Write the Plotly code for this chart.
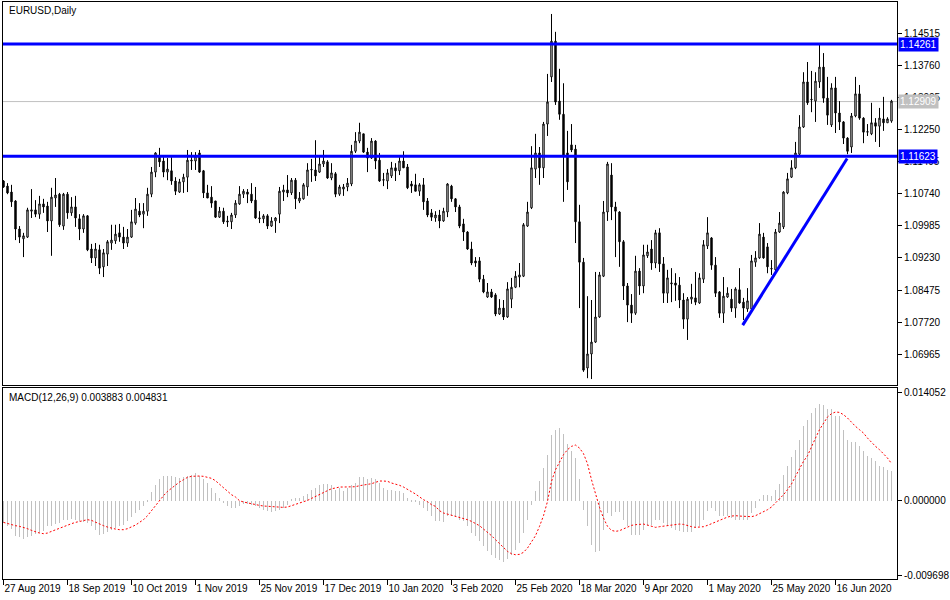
import plotly.graph_objects as go

TITLE = "EURUSD,Daily"
MACD_TEXT = "MACD(12,26,9) 0.003883 0.004831"

OPEN = [1.1104, 1.1092, 1.1078, 1.1057, 1.0991, 1.0968, 1.0972, 1.1033, 1.1036, 1.1026,
        1.1050, 1.1045, 1.1010, 1.1064, 1.1073, 1.0998, 1.1073, 1.1029, 1.1043, 1.1015,
        1.0991, 1.1022, 1.0944, 1.0923, 1.0942, 1.0902, 1.0932, 1.0958, 1.0963, 1.0982,
        1.0972, 1.0958, 1.0972, 1.1005, 1.1033, 1.1026, 1.1033, 1.1073, 1.1125, 1.1160,
        1.1151, 1.1125, 1.1128, 1.1104, 1.1078, 1.1102, 1.1113, 1.1151, 1.1151, 1.1170,
        1.1128, 1.1076, 1.1066, 1.1057, 1.1019, 1.1033, 1.1010, 1.1008, 1.1024, 1.1050,
        1.1073, 1.1078, 1.1073, 1.1059, 1.1015, 1.1015, 1.1022, 1.0998, 1.1010, 1.1026,
        1.1078, 1.1083, 1.1076, 1.1106, 1.1057, 1.1062, 1.1090, 1.1130, 1.1130, 1.1125,
        1.1144, 1.1149, 1.1111, 1.1121, 1.1073, 1.1085, 1.1090, 1.1097, 1.1174, 1.1198,
        1.1215, 1.1172, 1.1158, 1.1198, 1.1153, 1.1106, 1.1104, 1.1116, 1.1135, 1.1128,
        1.1151, 1.1137, 1.1097, 1.1095, 1.1080, 1.1095, 1.1057, 1.1029, 1.1017, 1.1024,
        1.1010, 1.1031, 1.1092, 1.1062, 1.1043, 1.1003, 1.0984, 1.0944, 1.0916, 1.0916,
        1.0873, 1.0831, 1.0843, 1.0836, 1.0791, 1.0805, 1.0784, 1.0826, 1.0854, 1.0878,
        1.0880, 1.0998, 1.1041, 1.1132, 1.1170, 1.1135, 1.1238, 1.1349, 1.1433, 1.1292,
        1.1261, 1.1170, 1.1189, 1.1179, 1.1008, 1.0913, 1.0664, 1.0697, 1.0725, 1.0784,
        1.0880, 1.1031, 1.1118, 1.1043, 1.1031, 1.0961, 1.0857, 1.0812, 1.0793, 1.0892,
        1.0857, 1.0928, 1.0944, 1.0911, 1.0982, 1.0909, 1.0840, 1.0862, 1.0864, 1.0859,
        1.0824, 1.0779, 1.0826, 1.0829, 1.0817, 1.0873, 1.0951, 1.0970, 1.0906, 1.0843,
        1.0793, 1.0831, 1.0826, 1.0805, 1.0848, 1.0819, 1.0803, 1.0803, 1.0913, 1.0923,
        1.0972, 1.0949, 1.0897, 1.0895, 1.0984, 1.0996, 1.1076, 1.1113, 1.1135, 1.1167,
        1.1231, 1.1337, 1.1295, 1.1292, 1.1337, 1.1372, 1.1299, 1.1236, 1.1323, 1.1264,
        1.1243, 1.1205, 1.1184, 1.1257, 1.1309, 1.1252, 1.1219, 1.1215, 1.1241, 1.1233,
        1.1250, 1.1241, 1.1245]

HIGH = [1.1106, 1.1099, 1.1095, 1.1059, 1.0998, 1.0982, 1.1041, 1.1085, 1.1059, 1.1069,
        1.1062, 1.1055, 1.1088, 1.1111, 1.1076, 1.1076, 1.1078, 1.1066, 1.1069, 1.1026,
        1.1026, 1.1024, 1.0956, 1.0958, 1.0954, 1.0944, 1.0965, 1.1001, 1.1001, 1.1003,
        1.0996, 1.0991, 1.1036, 1.1064, 1.1052, 1.1052, 1.1088, 1.1137, 1.1172, 1.1182,
        1.1160, 1.1158, 1.1160, 1.1113, 1.1109, 1.1121, 1.1177, 1.1172, 1.1172, 1.1177,
        1.1130, 1.1095, 1.1092, 1.1057, 1.1043, 1.1041, 1.1022, 1.1029, 1.1059, 1.1092,
        1.1085, 1.1085, 1.1099, 1.1090, 1.1033, 1.1026, 1.1026, 1.1019, 1.1019, 1.1090,
        1.1095, 1.1118, 1.1111, 1.1111, 1.1078, 1.1099, 1.1146, 1.1156, 1.1200, 1.1160,
        1.1177, 1.1153, 1.1146, 1.1125, 1.1095, 1.1097, 1.1111, 1.1189, 1.1219, 1.1241,
        1.1215, 1.1182, 1.1205, 1.1200, 1.1170, 1.1123, 1.1132, 1.1149, 1.1146, 1.1160,
        1.1174, 1.1144, 1.1104, 1.1121, 1.1099, 1.1111, 1.1064, 1.1038, 1.1033, 1.1036,
        1.1041, 1.1099, 1.1095, 1.1064, 1.1048, 1.1015, 1.0986, 1.0961, 1.0925, 1.0925,
        1.0883, 1.0864, 1.0850, 1.0840, 1.0826, 1.0824, 1.0866, 1.0876, 1.0892, 1.0911,
        1.1005, 1.1055, 1.1186, 1.1215, 1.1184, 1.1243, 1.1356, 1.1497, 1.1455, 1.1368,
        1.1334, 1.1222, 1.1238, 1.1189, 1.1048, 1.0923, 1.0833, 1.0824, 1.0890, 1.0890,
        1.1057, 1.1149, 1.1146, 1.1055, 1.1033, 1.0965, 1.0864, 1.0838, 1.0928, 1.0899,
        1.0954, 1.0954, 1.0965, 1.0989, 1.0993, 1.0925, 1.0895, 1.0899, 1.0887, 1.0878,
        1.0840, 1.0831, 1.0862, 1.0890, 1.0887, 1.0965, 1.1019, 1.0972, 1.0925, 1.0845,
        1.0878, 1.0854, 1.0850, 1.0854, 1.0899, 1.0829, 1.0852, 1.0930, 1.0939, 1.1005,
        1.0982, 1.0958, 1.0918, 1.0991, 1.1031, 1.1080, 1.1123, 1.1153, 1.1196, 1.1259,
        1.1360, 1.1384, 1.1363, 1.1360, 1.1424, 1.1405, 1.1349, 1.1334, 1.1349, 1.1292,
        1.1245, 1.1207, 1.1264, 1.1349, 1.1330, 1.1254, 1.1238, 1.1288, 1.1252, 1.1276,
        1.1302, 1.1254, 1.1295]

LOW = [1.1088, 1.1073, 1.1043, 1.0965, 1.0958, 1.0925, 1.0970, 1.1017, 1.1019, 1.1015,
       1.1029, 1.0984, 1.0928, 1.1043, 1.0996, 1.0989, 1.1015, 1.1022, 1.0996, 1.0965,
       1.0982, 1.0939, 1.0911, 1.0904, 1.0885, 1.0878, 1.0904, 1.0942, 1.0956, 1.0961,
       1.0944, 1.0949, 1.0970, 1.1001, 1.1019, 1.0993, 1.1022, 1.1066, 1.1113, 1.1137,
       1.1113, 1.1106, 1.1095, 1.1071, 1.1076, 1.1076, 1.1078, 1.1130, 1.1130, 1.1123,
       1.1064, 1.1064, 1.1041, 1.1017, 1.1017, 1.1003, 1.0996, 1.0991, 1.1017, 1.1048,
       1.1064, 1.1052, 1.1052, 1.1015, 1.1005, 1.1005, 1.0991, 1.0996, 1.0982, 1.1005,
       1.1057, 1.1066, 1.1071, 1.1038, 1.1052, 1.1060, 1.1069, 1.1102, 1.1104, 1.1123,
       1.1137, 1.1109, 1.1106, 1.1066, 1.1069, 1.1069, 1.1080, 1.1092, 1.1170, 1.1193,
       1.1170, 1.1125, 1.1156, 1.1132, 1.1102, 1.1092, 1.1085, 1.1111, 1.1104, 1.1118,
       1.1135, 1.1085, 1.1076, 1.1080, 1.1069, 1.1036, 1.1019, 1.1010, 1.1008, 1.0993,
       1.1008, 1.1019, 1.1055, 1.1031, 1.0993, 1.0963, 1.0942, 1.0906, 1.0902, 1.0866,
       1.0840, 1.0829, 1.0829, 1.0786, 1.0789, 1.0777, 1.0782, 1.0805, 1.0852, 1.0854,
       1.0878, 1.0996, 1.1038, 1.1111, 1.1095, 1.1111, 1.1210, 1.1337, 1.1283, 1.1248,
       1.1055, 1.1083, 1.1172, 1.0958, 1.0805, 1.0655, 1.0640, 1.0638, 1.0723, 1.0782,
       1.0878, 1.1010, 1.1012, 1.0925, 1.0902, 1.0824, 1.0772, 1.0770, 1.0789, 1.0836,
       1.0840, 1.0923, 1.0895, 1.0899, 1.0890, 1.0817, 1.0817, 1.0819, 1.0822, 1.0805,
       1.0756, 1.0730, 1.0815, 1.0812, 1.0815, 1.0864, 1.0944, 1.0895, 1.0831, 1.0782,
       1.0770, 1.0829, 1.0796, 1.0782, 1.0815, 1.0777, 1.0796, 1.0798, 1.0902, 1.0921,
       1.0921, 1.0887, 1.0883, 1.0892, 1.0982, 1.0991, 1.1073, 1.1111, 1.1132, 1.1165,
       1.1229, 1.1283, 1.1266, 1.1243, 1.1323, 1.1288, 1.1236, 1.1231, 1.1217, 1.1224,
       1.1191, 1.1167, 1.1170, 1.1254, 1.1248, 1.1193, 1.1210, 1.1212, 1.1196, 1.1184,
       1.1222, 1.1241, 1.1241]

CLOSE = [1.1090, 1.1076, 1.1055, 1.0991, 1.0972, 1.0975, 1.1036, 1.1036, 1.1026, 1.1050,
         1.1043, 1.1010, 1.1066, 1.1071, 1.1001, 1.1073, 1.1029, 1.1043, 1.1017, 1.0991,
         1.1022, 1.0942, 1.0923, 1.0944, 1.0899, 1.0935, 1.0961, 1.0965, 1.0979, 1.0972,
         1.0958, 1.0972, 1.1008, 1.1038, 1.1024, 1.1033, 1.1073, 1.1125, 1.1170, 1.1149,
         1.1125, 1.1132, 1.1104, 1.1080, 1.1102, 1.1113, 1.1153, 1.1153, 1.1163, 1.1125,
         1.1076, 1.1064, 1.1052, 1.1019, 1.1033, 1.1008, 1.1008, 1.1024, 1.1052, 1.1073,
         1.1080, 1.1073, 1.1057, 1.1017, 1.1017, 1.1022, 1.0998, 1.1010, 1.1017, 1.1080,
         1.1083, 1.1076, 1.1106, 1.1062, 1.1064, 1.1095, 1.1130, 1.1131, 1.1116, 1.1144,
         1.1151, 1.1111, 1.1123, 1.1073, 1.1090, 1.1090, 1.1099, 1.1174, 1.1198, 1.1219,
         1.1172, 1.1158, 1.1198, 1.1151, 1.1104, 1.1107, 1.1123, 1.1135, 1.1128, 1.1151,
         1.1135, 1.1088, 1.1092, 1.1080, 1.1095, 1.1055, 1.1024, 1.1019, 1.1024, 1.1010,
         1.1033, 1.1097, 1.1062, 1.1043, 1.0998, 1.0984, 1.0944, 1.0911, 1.0911, 1.0873,
         1.0843, 1.0843, 1.0831, 1.0791, 1.0805, 1.0784, 1.0850, 1.0854, 1.0880, 1.0883,
         1.1001, 1.1031, 1.1135, 1.1170, 1.1135, 1.1238, 1.1290, 1.1433, 1.1290, 1.1261,
         1.1163, 1.1102, 1.1177, 1.1008, 1.0913, 1.0659, 1.0697, 1.0725, 1.0784, 1.0883,
         1.1031, 1.1144, 1.1043, 1.1033, 1.0961, 1.0857, 1.0812, 1.0793, 1.0892, 1.0857,
         1.0930, 1.0937, 1.0911, 1.0982, 1.0909, 1.0840, 1.0876, 1.0864, 1.0859, 1.0824,
         1.0779, 1.0826, 1.0831, 1.0819, 1.0876, 1.0954, 1.0982, 1.0906, 1.0840, 1.0793,
         1.0833, 1.0840, 1.0805, 1.0850, 1.0817, 1.0805, 1.0822, 1.0916, 1.0923, 1.0979,
         1.0923, 1.0902, 1.0898, 1.0984, 1.1005, 1.1078, 1.1109, 1.1135, 1.1170, 1.1231,
         1.1337, 1.1288, 1.1296, 1.1339, 1.1372, 1.1299, 1.1259, 1.1323, 1.1264, 1.1243,
         1.1205, 1.1174, 1.1257, 1.1309, 1.1252, 1.1219, 1.1220, 1.1241, 1.1233, 1.1252,
         1.1241, 1.1250, 1.1292]

MACD = [-0.00291, -0.00334, -0.00369, -0.00455, -0.00473, -0.00499, -0.00473, -0.00455, -0.00429, -0.00421,
        -0.00399, -0.00334, -0.00325, -0.00299, -0.00291, -0.00247, -0.00247, -0.00239, -0.00247, -0.00269,
        -0.00282, -0.00291, -0.00334, -0.00386, -0.00442, -0.00429, -0.00412, -0.00386, -0.00356, -0.00334,
        -0.00312, -0.00269, -0.00213, -0.00160, -0.00117, -0.00074, -0.00009, 0.00108, 0.00208, 0.00282,
        0.00317, 0.00325, 0.00317, 0.00308, 0.00295, 0.00308, 0.00325, 0.00338, 0.00360, 0.00325,
        0.00286, 0.00230, 0.00165, 0.00100, 0.00035, -0.00030, -0.00065, -0.00095, -0.00095, -0.00074,
        -0.00039, -0.00039, -0.00052, -0.00074, -0.00095, -0.00117, -0.00130, -0.00147, -0.00139, -0.00117,
        -0.00095, -0.00052, 0.00022, 0.00035, 0.00035, 0.00056, 0.00091, 0.00134, 0.00165, 0.00208,
        0.00221, 0.00221, 0.00208, 0.00143, 0.00165, 0.00121, 0.00165, 0.00208, 0.00230, 0.00308,
        0.00308, 0.00282, 0.00295, 0.00282, 0.00230, 0.00165, 0.00143, 0.00143, 0.00121, 0.00121,
        0.00100, 0.00035, -0.00022, -0.00022, -0.00052, -0.00095, -0.00139, -0.00204, -0.00269, -0.00269,
        -0.00282, -0.00204, -0.00204, -0.00213, -0.00247, -0.00269, -0.00334, -0.00421, -0.00464, -0.00529,
        -0.00594, -0.00659, -0.00703, -0.00746, -0.00776, -0.00802, -0.00759, -0.00703, -0.00638, -0.00551,
        -0.00421, -0.00247, -0.00052, 0.00121, 0.00252, 0.00425, 0.00599, 0.00859, 0.00924, 0.00945,
        0.00872, 0.00742, 0.00642, 0.00555, 0.00286, -0.00117, -0.00334, -0.00572, -0.00672, -0.00659,
        -0.00377, -0.00160, -0.00204, -0.00152, -0.00152, -0.00247, -0.00334, -0.00442, -0.00442, -0.00442,
        -0.00377, -0.00334, -0.00312, -0.00247, -0.00247, -0.00291, -0.00334, -0.00356, -0.00377, -0.00399,
        -0.00412, -0.00412, -0.00412, -0.00356, -0.00325, -0.00247, -0.00139, -0.00095, -0.00139, -0.00195,
        -0.00204, -0.00204, -0.00226, -0.00247, -0.00247, -0.00247, -0.00256, -0.00160, -0.00095, 0.00013,
        0.00078, 0.00078, 0.00056, 0.00143, 0.00221, 0.00338, 0.00455, 0.00568, 0.00664, 0.00794,
        0.00976, 0.01054, 0.01141, 0.01206, 0.01262, 0.01249, 0.01193, 0.01193, 0.01097, 0.01097,
        0.00915, 0.00794, 0.00759, 0.00759, 0.00716, 0.00642, 0.00585, 0.00555, 0.00512, 0.00455,
        0.00438, 0.00403, 0.003883]

SIGNAL = [-0.00282, -0.00299, -0.00317, -0.00325, -0.00334, -0.00347, -0.00364, -0.00386, -0.00408, -0.00421,
          -0.00429, -0.00421, -0.00399, -0.00377, -0.00360, -0.00334, -0.00317, -0.00299, -0.00282, -0.00269,
          -0.00256, -0.00247, -0.00256, -0.00282, -0.00304, -0.00325, -0.00343, -0.00360, -0.00369, -0.00377,
          -0.00377, -0.00364, -0.00343, -0.00317, -0.00282, -0.00247, -0.00195, -0.00126, -0.00061, 0.00004,
          0.00065, 0.00121, 0.00165, 0.00200, 0.00243, 0.00273, 0.00304, 0.00317, 0.00321, 0.00321,
          0.00317, 0.00308, 0.00291, 0.00260, 0.00217, 0.00173, 0.00130, 0.00078, 0.00048, 0.00000,
          -0.00017, -0.00030, -0.00039, -0.00048, -0.00061, -0.00069, -0.00074, -0.00078, -0.00082, -0.00087,
          -0.00087, -0.00082, -0.00065, -0.00052, -0.00030, -0.00013, 0.00004, 0.00030, 0.00056, 0.00082,
          0.00108, 0.00134, 0.00156, 0.00165, 0.00178, 0.00178, 0.00178, 0.00178, 0.00182, 0.00195,
          0.00204, 0.00208, 0.00221, 0.00239, 0.00256, 0.00256, 0.00252, 0.00230, 0.00217, 0.00200,
          0.00178, 0.00152, 0.00117, 0.00087, 0.00048, 0.00013, -0.00013, -0.00052, -0.00074, -0.00130,
          -0.00160, -0.00173, -0.00195, -0.00204, -0.00213, -0.00226, -0.00247, -0.00269, -0.00299, -0.00325,
          -0.00369, -0.00408, -0.00455, -0.00507, -0.00559, -0.00616, -0.00659, -0.00690, -0.00703, -0.00698,
          -0.00672, -0.00616, -0.00542, -0.00455, -0.00334, -0.00195, -0.00009, 0.00252, 0.00403, 0.00512,
          0.00599, 0.00664, 0.00707, 0.00724, 0.00685, 0.00612, 0.00481, 0.00273, 0.00078, -0.00087,
          -0.00226, -0.00334, -0.00386, -0.00399, -0.00390, -0.00369, -0.00343, -0.00321, -0.00312, -0.00304,
          -0.00304, -0.00317, -0.00334, -0.00347, -0.00338, -0.00330, -0.00321, -0.00312, -0.00304, -0.00304,
          -0.00308, -0.00325, -0.00338, -0.00347, -0.00347, -0.00338, -0.00321, -0.00299, -0.00282, -0.00256,
          -0.00234, -0.00213, -0.00200, -0.00195, -0.00200, -0.00204, -0.00208, -0.00208, -0.00195, -0.00169,
          -0.00147, -0.00117, -0.00082, -0.00030, 0.00022, 0.00078, 0.00143, 0.00217, 0.00317, 0.00412,
          0.00512, 0.00585, 0.00707, 0.00815, 0.00924, 0.01011, 0.01089, 0.01132, 0.01154, 0.01149,
          0.01119, 0.01076, 0.01019, 0.00967, 0.00924, 0.00880, 0.00815, 0.00759, 0.00707, 0.00664,
          0.00612, 0.00555, 0.004831]

TICK_LABELS = ["27 Aug 2019", "18 Sep 2019", "10 Oct 2019", "1 Nov 2019", "25 Nov 2019",
               "17 Dec 2019", "10 Jan 2020", "3 Feb 2020", "25 Feb 2020", "18 Mar 2020",
               "9 Apr 2020", "1 May 2020", "25 May 2020", "16 Jun 2020"]
TICK_STEP = 16
PRICE_TICKS = [1.14515, 1.13760, 1.13005, 1.12250, 1.11495, 1.10740, 1.09985,
               1.09230, 1.08475, 1.07720, 1.06965]
MACD_TICKS = [0.014052, 0.0, -0.009698]
MACD_TICKTEXT = ["0.014052", "0.000000", "-0.009698"]
LEVELS = [1.14261, 1.11623]
BID = 1.12909
TREND_BAR = [184.8, 210.9]
TREND_PRICE = [1.0765, 1.1157]

PRICE_RANGE = [1.0624, 1.15252]
MACD_RANGE = [-0.010187, 0.014663]
X_RANGE = [-0.125, 223.375]

n = len(CLOSE)
xs = list(range(n))

FONT = "Liberation Sans"
BLUE = "#0000ff"
SILVER = "#c0c0c0"

fig = go.Figure()

fig.add_trace(go.Candlestick(
    x=xs, open=OPEN, high=HIGH, low=LOW, close=CLOSE,
    increasing=dict(line=dict(color="black", width=1), fillcolor="white"),
    decreasing=dict(line=dict(color="black", width=1), fillcolor="black"),
    whiskerwidth=0, hoverinfo="y",
    xaxis="x", yaxis="y", showlegend=False,
))

fig.add_trace(go.Scatter(
    x=TREND_BAR, y=TREND_PRICE, mode="lines",
    line=dict(color=BLUE, width=3), hoverinfo="skip",
    xaxis="x", yaxis="y", showlegend=False,
))

fig.add_trace(go.Bar(
    x=xs, y=MACD, width=0.25, marker=dict(color=SILVER, line=dict(width=0)),
    xaxis="x2", yaxis="y2", showlegend=False, hoverinfo="y",
))

fig.add_trace(go.Scatter(
    x=xs, y=SIGNAL, mode="lines",
    line=dict(color="#ff0000", width=1, dash="2px,2px"),
    xaxis="x2", yaxis="y2", showlegend=False, hoverinfo="skip",
))

shapes = [dict(type="line", xref="x domain", x0=0, x1=1, yref="y", y0=BID, y1=BID,
               line=dict(color=SILVER, width=1), layer="below")]
for lv in LEVELS:
    shapes.append(dict(type="line", xref="x domain", x0=0, x1=1, yref="y", y0=lv, y1=lv,
                       line=dict(color=BLUE, width=3), layer="above"))

annotations = [
    dict(xref="paper", x=0, xanchor="left", xshift=4, yref="paper", y=1, yanchor="top",
         yshift=-1, text=TITLE, showarrow=False, font=dict(family=FONT, size=10, color="black")),
    dict(xref="paper", x=0, xanchor="left", xshift=4, yref="y2 domain", y=1, yanchor="top",
         yshift=-2, text=MACD_TEXT, showarrow=False, font=dict(family=FONT, size=10, color="black")),
]
for val, col in [(LEVELS[0], BLUE), (BID, SILVER), (LEVELS[1], BLUE)]:
    annotations.append(dict(xref="paper", x=1, xanchor="left", xshift=1, yref="y", y=val,
                            yanchor="middle", text=f"{val:.5f}", showarrow=False,
                            bgcolor=col, borderpad=1,
                            font=dict(family=FONT, size=10, color="white")))

axis_common = dict(showgrid=False, zeroline=False, showline=True, linecolor="black",
                   linewidth=1, mirror=True, automargin=False)

top_bottom = (579 - 385) / 577
macd_top = (579 - 388) / 577

fig.update_layout(
    width=950, height=600,
    margin=dict(l=3, r=53, t=2, b=21, autoexpand=False),
    paper_bgcolor="white", plot_bgcolor="white",
    showlegend=False, boxgap=0.5, bargap=0,
    font=dict(family=FONT, size=10, color="black"),
    xaxis=dict(domain=[0, 1], range=X_RANGE, anchor="y", showticklabels=False, ticks="",
               rangeslider=dict(visible=False), **axis_common),
    yaxis=dict(domain=[top_bottom, 1], range=PRICE_RANGE, anchor="x", side="right",
               tickvals=PRICE_TICKS, ticktext=[f"{v:.5f}" for v in PRICE_TICKS],
               ticks="outside", ticklen=4, tickcolor="black", tickfont=dict(size=10), **axis_common),
    xaxis2=dict(domain=[0, 1], range=X_RANGE, anchor="y2",
                tickvals=[i * TICK_STEP for i in range(len(TICK_LABELS))], ticktext=TICK_LABELS,
                ticks="outside", ticklen=5, tickcolor="black", ticklabelposition="outside right",
                tickangle=0, tickfont=dict(size=10), **axis_common),
    yaxis2=dict(domain=[0, macd_top], range=MACD_RANGE, anchor="x2", side="right",
                tickvals=MACD_TICKS, ticktext=MACD_TICKTEXT,
                ticks="outside", ticklen=4, tickcolor="black", tickfont=dict(size=10), **axis_common),
    shapes=shapes, annotations=annotations,
)

fig.write_html("out.html", config={"displayModeBar": False},
               post_script="document.body.style.margin='0';document.body.style.overflow='hidden';")
